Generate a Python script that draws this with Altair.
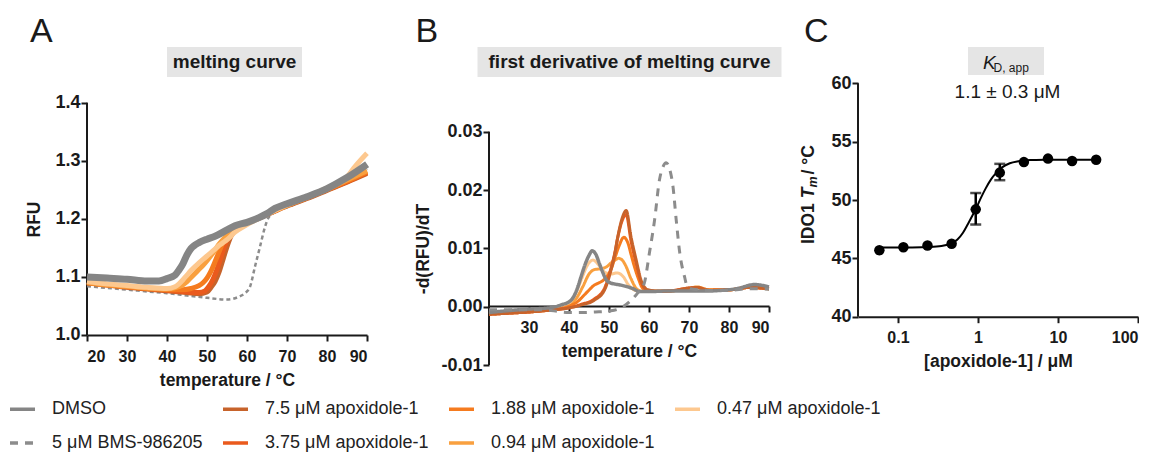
import altair as alt
import pandas as pd

FONT = "Liberation Sans"
INK = "#1a1a1a"

# ---------------- legend / series ----------------
SERIES = ["DMSO", "5 μM BMS-986205", "7.5 μM apoxidole-1", "3.75 μM apoxidole-1",
          "1.88 μM apoxidole-1", "0.94 μM apoxidole-1", "0.47 μM apoxidole-1"]
COLORS = ["#858585", "#8c8c8c", "#c7632b", "#ea5a1d", "#f57b1f", "#f9a03f", "#fdc88f"]
DASHES = [[1, 0], [8, 7], [1, 0], [1, 0], [1, 0], [1, 0], [1, 0]]

# ---------------- panel A: melting curve (RFU) ----------------
A_XTICKS = [20, 30, 40, 50, 60, 70, 80, 90]
A_YTICKS = [1.0, 1.1, 1.2, 1.3, 1.4]

A_DMSO_T = [20, 25, 30, 35, 38, 40, 42, 43, 44, 45, 46, 47, 48, 50, 52, 55, 57, 60, 63, 65, 67, 70, 75, 80, 85, 90]
A_DMSO = [1.100, 1.098, 1.096, 1.093, 1.093, 1.097, 1.103, 1.112, 1.123, 1.138, 1.149, 1.155, 1.159, 1.165,
          1.170, 1.181, 1.188, 1.194, 1.202, 1.209, 1.218, 1.226, 1.238, 1.252, 1.271, 1.294]

A_BMS_T = [20, 25, 30, 35, 40, 45, 50, 55, 58, 59.5, 60.75, 62, 63.25, 64.5, 65.3, 67, 70, 75, 80, 85, 90]
A_BMS = [1.084, 1.081, 1.078, 1.075, 1.072, 1.068, 1.064, 1.061, 1.066, 1.072, 1.083, 1.118, 1.152, 1.186,
         1.201, 1.212, 1.220, 1.234, 1.248, 1.266, 1.286]

A_75_T = [20, 25, 30, 35, 40, 45, 48, 50, 51, 52, 53, 54, 55, 56, 57, 58, 60, 65, 70, 75, 80, 85, 90]
A_75 = [1.090, 1.086, 1.082, 1.079, 1.076, 1.073, 1.071, 1.074, 1.082, 1.092, 1.108, 1.130, 1.152, 1.170,
        1.180, 1.185, 1.192, 1.207, 1.222, 1.235, 1.249, 1.263, 1.278]

A_375_T = [20, 25, 30, 35, 40, 45, 48, 49.5, 50.5, 51.5, 52.5, 53.5, 54.5, 55.5, 56.5, 58, 60, 65, 70, 75, 80, 85, 90]
A_375 = [1.091, 1.087, 1.083, 1.080, 1.077, 1.074, 1.073, 1.076, 1.084, 1.096, 1.113, 1.134, 1.155, 1.171,
         1.180, 1.186, 1.193, 1.208, 1.223, 1.236, 1.250, 1.264, 1.280]

A_188_T = [20, 25, 30, 35, 40, 44, 46, 48, 49, 50, 51, 52, 53, 54, 55, 56, 58, 60, 65, 70, 75, 80, 85, 90]
A_188 = [1.090, 1.086, 1.083, 1.080, 1.078, 1.078, 1.080, 1.085, 1.090, 1.098, 1.110, 1.126, 1.143, 1.160,
         1.172, 1.180, 1.187, 1.193, 1.208, 1.223, 1.236, 1.250, 1.265, 1.281]

A_094_T = [20, 25, 30, 35, 40, 43, 45, 46, 47, 48, 49, 50, 51, 52, 53, 54, 55, 57, 60, 65, 70, 75, 80, 85, 90]
A_094 = [1.091, 1.087, 1.084, 1.081, 1.079, 1.083, 1.092, 1.099, 1.106, 1.113, 1.120, 1.128, 1.137, 1.146,
         1.156, 1.164, 1.171, 1.182, 1.192, 1.208, 1.223, 1.237, 1.251, 1.267, 1.283]

A_047_T = [20, 25, 30, 35, 40, 42, 43, 44, 45, 46, 47, 48, 49, 50, 51, 52, 53, 54, 55, 57, 60, 65, 70, 75,
           80, 85, 87, 90]
A_047 = [1.092, 1.088, 1.085, 1.082, 1.080, 1.083, 1.088, 1.095, 1.103, 1.111, 1.118, 1.124, 1.130, 1.136,
         1.142, 1.148, 1.154, 1.159, 1.164, 1.177, 1.190, 1.208, 1.224, 1.238, 1.253, 1.272, 1.290, 1.313]

# ---------------- panel B: first derivative ----------------
B_XTICKS = [30, 40, 50, 60, 70, 80, 90]
B_YTICKS = [-0.01, 0.0, 0.01, 0.02, 0.03]

B_DMSO_T = [20, 26, 30, 35, 38, 40.5, 42, 43, 44, 45, 45.8, 46.7, 47.6, 48.5, 49.3, 50.3, 51.4, 53, 54.7,
            56, 57.6, 60, 65, 70, 75, 78, 82, 86.4, 90]
B_DMSO = [-0.0010, -0.0006, -0.0004, -0.0002, 0.0003, 0.0011, 0.0030, 0.0051, 0.0072, 0.0088, 0.0096,
          0.0090, 0.0074, 0.0058, 0.0046, 0.0041, 0.0039, 0.0037, 0.0034, 0.0031, 0.0026, 0.0026, 0.0027,
          0.0027, 0.0027, 0.0028, 0.0031, 0.0038, 0.0034]

B_BMS_T = [20, 25, 30, 35, 37, 40, 43, 46.6, 50.5, 53, 55.5, 57, 58.8, 60.1, 61.4, 62.6, 63.5, 64.3, 65.2,
           66.0, 66.8, 67.7, 68.9, 69.5, 71, 75, 80, 85, 90]
B_BMS = [-0.0005, -0.0005, -0.0005, -0.0006, -0.0008, -0.0010, -0.0010, -0.0009, -0.0007, -0.0002, 0.0011,
         0.0022, 0.0040, 0.0092, 0.0149, 0.0217, 0.0240, 0.0247, 0.0235, 0.0206, 0.0149, 0.0092, 0.0051,
         0.0036, 0.0030, 0.0028, 0.0028, 0.0031, 0.0030]

B_75_T = [20, 25, 30, 35, 38, 40, 43, 46.3, 48.9, 50.5, 51.5, 52.2, 53.3, 54.3, 55.5, 56.8, 58, 59.7, 62,
          65, 70, 72, 75, 80, 85, 90]
B_75 = [-0.0013, -0.0011, -0.0009, -0.0006, -0.0004, -0.0002, 0.0003, 0.0011, 0.0029, 0.0063, 0.0093,
        0.0120, 0.0152, 0.0165, 0.0120, 0.0080, 0.0046, 0.0029, 0.0027, 0.0027, 0.0032, 0.0033, 0.0028,
        0.0029, 0.0033, 0.0031]
B_375 = [-0.0013, -0.0011, -0.0009, -0.0006, -0.0004, -0.0002, 0.0004, 0.0013, 0.0032, 0.0066, 0.0094,
         0.0119, 0.0148, 0.0158, 0.0113, 0.0074, 0.0043, 0.0028, 0.0026, 0.0027, 0.0032, 0.0033, 0.0028,
         0.0029, 0.0033, 0.0031]

B_188_T = [20, 25, 30, 35, 38, 40, 42, 43.8, 45.5, 46.3, 47.2, 48.5, 49.7, 50.5, 51.4, 52.5, 53.7, 54.8,
           55.5, 56.3, 57.2, 58.5, 60, 65, 70, 72, 75, 80, 85, 90]
B_188 = [-0.0013, -0.0011, -0.0009, -0.0006, -0.0003, 0.0001, 0.0008, 0.0020, 0.0032, 0.0037, 0.0040,
         0.0045, 0.0054, 0.0064, 0.0082, 0.0104, 0.0119, 0.0108, 0.0090, 0.0070, 0.0051, 0.0031, 0.0027,
         0.0027, 0.0031, 0.0033, 0.0029, 0.0029, 0.0033, 0.0031]

B_094_T = [20, 25, 30, 35, 38, 40, 42, 43.5, 45, 46.5, 48, 49.5, 50.5, 51.5, 52.4, 53.3, 54.2, 55.5, 57,
           58.5, 60, 65, 70, 72, 75, 80, 85, 90]
B_094 = [-0.0012, -0.0010, -0.0008, -0.0005, -0.0002, 0.0003, 0.0016, 0.0035, 0.0056, 0.0064, 0.0065,
         0.0069, 0.0075, 0.0080, 0.0083, 0.0080, 0.0070, 0.0048, 0.0030, 0.0026, 0.0026, 0.0027, 0.0031,
         0.0034, 0.0029, 0.0029, 0.0033, 0.0032]

B_047_T = [20, 25, 30, 35, 38, 40, 41.5, 43, 44.5, 46, 47.5, 49, 50.5, 52, 53.5, 55, 56.5, 58, 60, 65, 70,
           72, 75, 80, 85, 90]
B_047 = [-0.0012, -0.0010, -0.0008, -0.0004, 0.0000, 0.0006, 0.0020, 0.0045, 0.0070, 0.0080, 0.0071,
         0.0059, 0.0056, 0.0058, 0.0052, 0.0036, 0.0028, 0.0026, 0.0026, 0.0027, 0.0031, 0.0034, 0.0029,
         0.0029, 0.0034, 0.0030]

# ---------------- panel C: Tm vs concentration ----------------
C_XTICKS = [0.1, 1, 10, 100]
C_YTICKS = [40, 45, 50, 55, 60]
C_CONC = [0.0586, 0.117, 0.234, 0.469, 0.938, 1.875, 3.75, 7.5, 15, 30]
C_TM = [45.7, 45.95, 46.1, 46.25, 49.2, 52.35, 53.25, 53.55, 53.35, 53.45]
C_ERR_CONC = [0.938, 1.875]
C_ERR_LO = [47.9, 51.7]
C_ERR_HI = [50.6, 53.1]
C_FIT_CONC = [0.0586, 0.15, 0.25, 0.35, 0.45, 0.55, 0.65, 0.75, 0.85, 0.95, 1.1, 1.25, 1.45, 1.7, 2.0,
              2.5, 3.2, 4.5, 7, 12, 30]
C_FIT_TM = [45.93, 45.94, 45.97, 46.05, 46.25, 46.6, 47.2, 47.95, 48.65, 49.3, 50.25, 51.0, 51.75, 52.35,
            52.8, 53.15, 53.32, 53.42, 53.45, 53.46, 53.46]

# ---------------- texts ----------------
PANEL_LETTERS = ["A", "B", "C"]
PANEL_TITLES = ["melting curve", "first derivative of melting curve"]
KD_TEXT = ["K", "D, app", "1.1 ± 0.3 μM"]
C_YTITLE = ["IDO1 ", "T", "m", " / °C"]
X_TITLE = "temperature / °C"
C_XTITLE = "[apoxidole-1] / μM"

H = 282

legend = alt.Legend(title=None, orient="none", legendX=-79, legendY=311.5, columns=4,
                    symbolType="stroke", symbolSize=625, symbolStrokeWidth=3.5,
                    labelFontSize=18, labelFont=FONT, labelColor="#222222", labelOffset=15,
                    columnPadding=13, rowPadding=10, labelLimit=400)
color = alt.Color("series:N", scale=alt.Scale(domain=SERIES, range=COLORS), legend=legend)
dash = alt.StrokeDash("series:N", scale=alt.Scale(domain=SERIES, range=DASHES), legend=legend)


def frame(name, T, V):
    return pd.DataFrame({"T": T, "v": V, "series": name})


def txt(s, x, y, size, weight="normal", style="normal", align="center", baseline="alphabetic", angle=0):
    return alt.Chart(pd.DataFrame({"s": [s]})).mark_text(
        fontSize=size, fontWeight=weight, fontStyle=style, align=align, baseline=baseline,
        angle=angle, font=FONT, color=INK).encode(text="s:N", x=alt.value(x), y=alt.value(y))


def box(x1, x2, y1, y2):
    return alt.Chart(pd.DataFrame({"a": [0]})).mark_rect(color="#e5e5e5").encode(
        x=alt.value(x1), x2=alt.value(x2), y=alt.value(y1), y2=alt.value(y2))


def yrule(ticks, yenc):
    return alt.Chart(pd.DataFrame({"v": [min(ticks)], "v2": [max(ticks)]})).mark_rule(
        color=INK, strokeWidth=2).encode(x=alt.value(0), y=yenc, y2="v2:Q")


YLAB = dict(labelFontSize=18, labelPadding=1)

# ---------- A ----------
xA = alt.X("T:Q", scale=alt.Scale(domain=[20, 90], nice=False, zero=False),
           axis=alt.Axis(values=A_XTICKS, title=X_TITLE, offset=-30, labelPadding=7, titlePadding=7))
yA = alt.Y("v:Q", scale=alt.Scale(domain=[0.9483, 1.4339], nice=False, zero=False),
           axis=alt.Axis(values=A_YTICKS, format=".1f", domain=False, title="RFU", titleX=-52.5,
                         titleY=136, titleBaseline="middle", titleAngle=270, **YLAB))

dfA_or = pd.concat([frame(SERIES[2], A_75_T, A_75), frame(SERIES[3], A_375_T, A_375),
                    frame(SERIES[4], A_188_T, A_188), frame(SERIES[5], A_094_T, A_094),
                    frame(SERIES[6], A_047_T, A_047)])
A_bms = alt.Chart(frame(SERIES[1], A_BMS_T, A_BMS)).mark_line(
    strokeWidth=2.5, interpolate="monotone", color=COLORS[1], strokeDash=[4, 3]).encode(x=xA, y=yA)
A_or = alt.Chart(dfA_or).mark_line(strokeWidth=5, interpolate="monotone").encode(x=xA, y=yA, color=color)
A_dm = alt.Chart(frame(SERIES[0], A_DMSO_T, A_DMSO)).mark_line(
    strokeWidth=7, interpolate="monotone").encode(x=xA, y=yA, color=color)

panelA = alt.layer(
    box(80, 215, -36, -6), txt(PANEL_TITLES[0], 147.5, -21, 19, "bold", baseline="middle"),
    txt(PANEL_LETTERS[0], -57, -41, 34, align="left"),
    yrule(A_YTICKS, yA), A_bms, A_or, A_dm
).properties(width=280, height=H)

# ---------- B ----------
xB = alt.X("T:Q", scale=alt.Scale(domain=[20, 90], nice=False, zero=False),
           axis=alt.Axis(values=B_XTICKS, title=X_TITLE, offset=-59, labelPadding=7, titlePadding=7))
yB = alt.Y("v:Q", scale=alt.Scale(domain=[-0.01, 0.03838], nice=False, zero=False),
           axis=alt.Axis(values=B_YTICKS, domain=False, title="-d(RFU)/dT", titleX=-66,
                         titleY=165.5, titleBaseline="middle", titleAngle=270,
                         labelExpr="datum.value < 0 ? '-' + format(-datum.value, '.2f') : format(datum.value, '.2f')",
                         **YLAB))

dfB_or = pd.concat([frame(SERIES[5], B_094_T, B_094), frame(SERIES[6], B_047_T, B_047),
                    frame(SERIES[4], B_188_T, B_188), frame(SERIES[3], B_75_T, B_375),
                    frame(SERIES[2], B_75_T, B_75)])
B_or = alt.Chart(dfB_or).mark_line(strokeWidth=3, interpolate="monotone").encode(
    x=xB, y=yB, color=color, strokeDash=dash)
B_dm = alt.Chart(frame(SERIES[0], B_DMSO_T, B_DMSO)).mark_line(strokeWidth=3.5, interpolate="monotone").encode(
    x=xB, y=yB, color=color, strokeDash=dash)
B_bms = alt.Chart(frame(SERIES[1], B_BMS_T, B_BMS)).mark_line(strokeWidth=3, interpolate="monotone").encode(
    x=xB, y=yB, color=color, strokeDash=dash)

panelB = alt.layer(
    box(-11.5, 292.5, -36, -6), txt(PANEL_TITLES[1], 140.5, -21, 19, "bold", baseline="middle"),
    txt(PANEL_LETTERS[1], -73.5, -41, 34, align="left"),
    yrule(B_YTICKS, yB), B_or, B_dm, B_bms
).properties(width=280, height=H)

# ---------- C ----------
xC = alt.X("conc:Q", scale=alt.Scale(type="log", domain=[0.0317, 100], nice=False),
           axis=alt.Axis(values=C_XTICKS, format="~g", title=C_XTITLE, offset=-48.3,
                         labelPadding=7, titlePadding=7))
yC = alt.Y("tm:Q", scale=alt.Scale(domain=[35.86, 60.03], nice=False, zero=False),
           axis=alt.Axis(values=C_YTICKS, domain=False, title=None, **YLAB))

dfC = pd.DataFrame({"conc": C_CONC, "tm": C_TM})
dfFit = pd.DataFrame({"conc": C_FIT_CONC, "tm": C_FIT_TM})
dfErr = pd.DataFrame({"conc": C_ERR_CONC, "tm": C_ERR_LO, "tm2": C_ERR_HI})
dfCaps = pd.DataFrame({"conc": C_ERR_CONC + C_ERR_CONC, "tm": C_ERR_LO + C_ERR_HI})

C_fit = alt.Chart(dfFit).mark_line(color="black", strokeWidth=2, interpolate="monotone").encode(x=xC, y=yC)
C_err = alt.Chart(dfErr).mark_rule(color="black", strokeWidth=2.5).encode(x=xC, y=yC, y2="tm2:Q")
C_caps = alt.Chart(dfCaps).mark_tick(color="black", orient="horizontal", size=11, thickness=2.5).encode(x=xC, y=yC)
C_pts = alt.Chart(dfC).mark_circle(color="black", size=110, opacity=1).encode(x=xC, y=yC)
C_rule = alt.Chart(pd.DataFrame({"tm": [min(C_YTICKS)], "v2": [max(C_YTICKS)]})).mark_rule(
    color=INK, strokeWidth=2).encode(x=alt.value(0), y=yC, y2="v2:Q")

panelC = alt.layer(
    box(110, 186, -36, -8),
    txt(KD_TEXT[0], 125, -14.5, 19, style="italic", align="left"),
    txt(KD_TEXT[1], 135.5, -11, 12, align="left"),
    txt(KD_TEXT[2], 149.5, 15, 19),
    txt(PANEL_LETTERS[2], -54, -41, 34, align="left"),
    txt(C_YTITLE[0], -49, 161, 17.5, "bold", align="left", baseline="middle", angle=270),
    txt(C_YTITLE[1], -49, 115.3, 17.5, "bold", "italic", align="left", baseline="middle", angle=270),
    txt(C_YTITLE[2], -45, 104.6, 12.5, "bold", "italic", align="left", baseline="middle", angle=270),
    txt(C_YTITLE[3], -49, 91.5, 17.5, "bold", align="left", baseline="middle", angle=270),
    C_rule, C_fit, C_err, C_caps, C_pts
).properties(width=280, height=H)


def spacer(w):
    return alt.Chart(pd.DataFrame({"z": [0]})).mark_point(opacity=0).encode(
        x=alt.X("z:Q", axis=None), y=alt.Y("z:Q", axis=None)).properties(width=w, height=H)


chart = alt.hconcat(panelA, spacer(121.5), panelB, spacer(88.5), panelC, spacing=0, bounds="flush",
                    padding={"left": 0, "top": 7, "right": 0, "bottom": 0}
).configure_view(stroke=None).configure_axis(
    labelFont=FONT, labelFontSize=16, labelFontWeight="bold", labelColor=INK,
    titleFont=FONT, titleFontSize=17.5, titleFontWeight="bold", titleColor=INK,
    domainColor=INK, domainWidth=2, tickColor=INK, tickWidth=2, tickSize=6, grid=False
)

chart.save("out.html", embed_options={"renderer": "svg", "actions": False})
